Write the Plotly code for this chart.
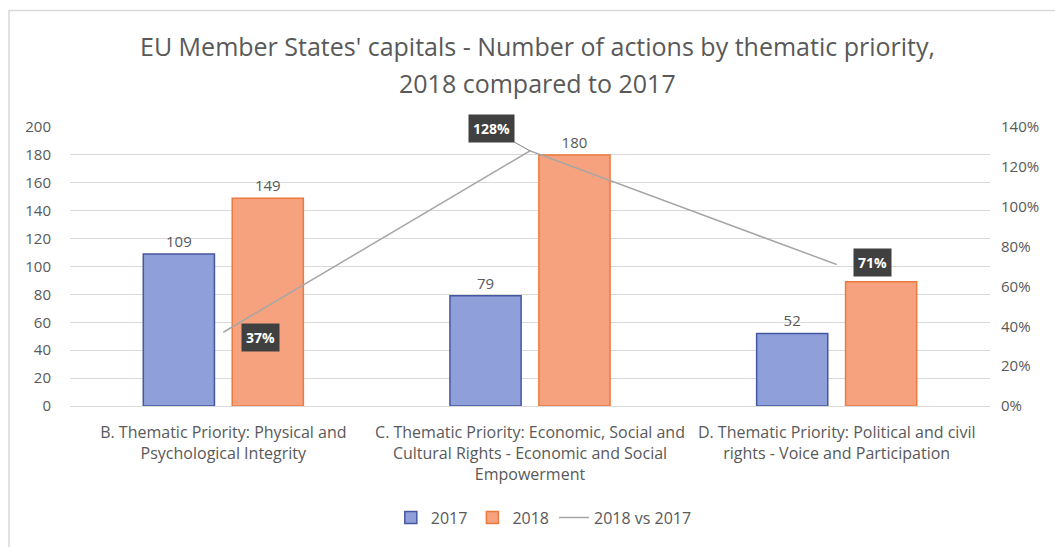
import plotly.graph_objects as go

# Actions per thematic priority in the EU Member States' capitals
categories = [
    "B. Thematic Priority: Physical and<br>Psychological Integrity",
    "C. Thematic Priority: Economic, Social and<br>Cultural Rights - Economic and Social<br>Empowerment",
    "D. Thematic Priority: Political and civil<br>rights - Voice and Participation",
]
actions_2017 = [109, 79, 52]
actions_2018 = [149, 180, 89]
labels_2017 = ["109", "79", "52"]
labels_2018 = ["149", "180", ""]
change_2018_vs_2017 = [0.37, 1.28, 0.71]
change_labels = ["37%", "128%", "71%"]

left_ticks = list(range(0, 201, 20))
right_ticks = [0, 0.2, 0.4, 0.6, 0.8, 1.0, 1.2, 1.4]
right_ticktext = ["0%", "20%", "40%", "60%", "80%", "100%", "120%", "140%"]

title_lines = [
    "EU Member States' capitals - Number of actions by thematic priority,",
    "2018 compared to 2017",
]

FONT = "Open Sans"
GREY = "#595959"

fig = go.Figure()
fig.add_trace(go.Bar(
    x=categories, y=actions_2017, name="2017",
    marker=dict(color="#8E9FDA", line=dict(color="#4557A0", width=1.5)),
    text=labels_2017, textposition="outside", cliponaxis=False,
    textfont=dict(family=FONT, size=15, color=GREY),
))
fig.add_trace(go.Bar(
    x=categories, y=actions_2018, name="2018",
    marker=dict(color="#F6A27E", line=dict(color="#EC7A3C", width=1.5)),
    text=labels_2018, textposition="outside", cliponaxis=False,
    textfont=dict(family=FONT, size=15, color=GREY),
))
fig.add_trace(go.Scatter(
    x=categories, y=change_2018_vs_2017, name="2018 vs 2017",
    mode="lines", yaxis="y2",
    line=dict(color="#A6A6A6", width=1.5),
))

# Data labels for the percentage change line
label_offsets = [(37, -5, False), (-39, 22, True), (36, 2, False)]
for cat, val, txt, (dx, dy, lead) in zip(categories, change_2018_vs_2017,
                                          change_labels, label_offsets):
    common = dict(
        x=cat, y=val, xref="x", yref="y2", text="<b>%s</b>" % txt,
        bgcolor="#404040", borderpad=4,
        font=dict(family=FONT, size=14, color="white"),
    )
    if lead:
        fig.add_annotation(
            showarrow=True, arrowhead=0, arrowwidth=1, arrowcolor="#7F7F7F",
            ax=dx, ay=-dy, standoff=0, **common,
        )
    else:
        fig.add_annotation(showarrow=False, xshift=dx, yshift=dy, **common)

# Two-line chart title
for txt, ypos in zip(title_lines, [1.291, 1.156]):
    fig.add_annotation(
        text=txt, xref="paper", yref="paper", x=0.508, y=ypos,
        xanchor="center", yanchor="middle", showarrow=False,
        font=dict(family=FONT, size=25, color=GREY),
    )

# Light outline around the chart area
fig.add_shape(type="rect", xref="paper", yref="paper",
              x0=-0.0663, x1=1.2, y0=-0.8, y1=1.418,
              line=dict(color="#D9D9D9", width=1.5), fillcolor="rgba(0,0,0,0)",
              layer="below")

fig.update_layout(
    width=1055, height=547,
    margin=dict(l=70, r=65, t=127, b=138),
    paper_bgcolor="white", plot_bgcolor="white",
    font=dict(family=FONT, color=GREY),
    barmode="group", bargap=0.42, bargroupgap=0.2,
    xaxis=dict(
        showgrid=False, showline=True, linecolor="#D9D9D9", linewidth=1,
        ticks="", tickfont=dict(family=FONT, size=16, color=GREY),
        ticklabelstandoff=12,
    ),
    yaxis=dict(
        range=[0, 200], tickvals=left_ticks, showgrid=True,
        gridcolor="#D9D9D9", gridwidth=1, zeroline=False,
        tickfont=dict(family=FONT, size=15, color=GREY), ticklabelstandoff=18,
    ),
    yaxis2=dict(
        range=[0, 1.4], tickvals=right_ticks, ticktext=right_ticktext,
        overlaying="y", side="right", showgrid=False, zeroline=False,
        tickfont=dict(family=FONT, size=15, color=GREY), ticklabelstandoff=10,
    ),
    legend=dict(
        orientation="h", x=0.515, xanchor="center", y=-0.4, yanchor="middle",
        font=dict(family=FONT, size=16, color=GREY), traceorder="normal",
    ),
    showlegend=True,
)

fig.write_html("out.html")
